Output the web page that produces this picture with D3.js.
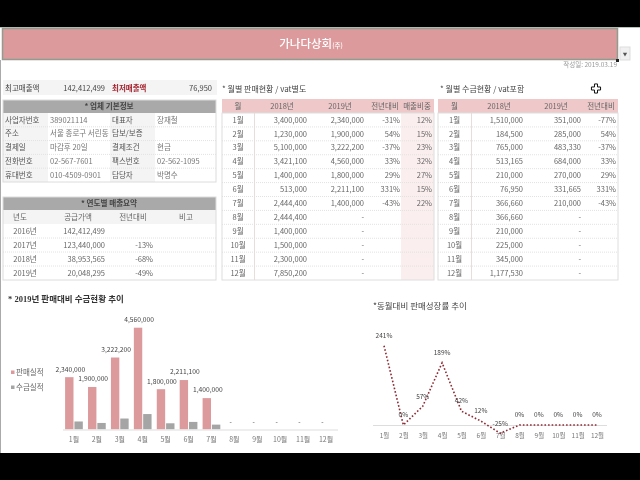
<!DOCTYPE html>
<html>
<head>
<meta charset="utf-8">
<script src="https://cdn.jsdelivr.net/npm/d3@7"></script>
<style>
html, body { margin: 0; padding: 0; background: #fff; }
svg { display: block; filter: blur(0.3px); }
text { font-family: "Noto Sans CJK KR", "Noto Sans", sans-serif; fill: #666; font-size: 7.5px; }
</style>
</head>
<body>
<script>
const months = ['1월','2월','3월','4월','5월','6월','7월','8월','9월','10월','11월','12월']

// 월별 판매현황
const sales2018 = ['3,400,000','1,230,000','5,100,000','3,421,100','1,400,000','513,000','2,444,400','2,444,400','1,400,000','1,500,000','2,300,000','7,850,200']
const sales2019Labels = ['2,340,000','1,900,000','3,222,200','4,560,000','1,800,000','2,211,100','1,400,000','-','-','-','-','-']
const salesYoY = ['-31%','54%','-37%','33%','29%','331%','-43%','','','','','']
const salesShare = ['12%','15%','23%','32%','27%','15%','22%','','','','','']

// 월별 수금현황
const coll2018 = ['1,510,000','184,500','765,000','513,165','210,000','76,950','366,660','366,660','210,000','225,000','345,000','1,177,530']
const coll2019Labels = ['351,000','285,000','483,330','684,000','270,000','331,665','210,000','-','-','-','-','-']
const collYoY = ['-77%','54%','-37%','33%','29%','331%','-43%','','','','','']

// 차트 값
const salesValues = [2340000,1900000,3222200,4560000,1800000,2211100,1400000,0,0,0,0,0]
const collValues = [351000,285000,483330,684000,270000,331665,210000,0,0,0,0,0]
const growthValues = [241,0,57,189,42,12,-25,0,0,0,0,0]

// 업체 기본정보
const infoLabels1 = ['사업자번호','주소','결제일','전화번호','휴대번호']
const infoValues1 = ['389021114','서울 종로구 서린동','마감후 20일','02-567-7601','010-4509-0901']
const infoLabels2 = ['대표자','담보/보증','결제조건','팩스번호','담당자']
const infoValues2 = ['장재철','','현금','02-562-1095','박명수']

// 연도별 매출요약
const yearLabels = ['2016년','2017년','2018년','2019년']
const yearSupply = ['142,412,499','123,440,000','38,953,565','20,048,295']
const yearYoY = ['','-13%','-68%','-49%']

const pink = '#dd9a9c'
const headPink = '#efc9ca'
const gray = '#a9a9a9'
const lightGray = '#f4f4f4'
const barGray = '#a5a5a5'
const rowLine = '#e2e2e2'

const svg = d3.select('body').append('svg').attr('width', 640).attr('height', 480)

function rect(x, y, w, h, fill, stroke) {
    return svg.append('rect').attr('x', x).attr('y', y).attr('width', w).attr('height', h)
        .attr('fill', fill).attr('stroke', stroke || 'none')
}
function label(x, y, str, anchor, size, color, weight) {
    return svg.append('text').attr('x', x).attr('y', y).attr('dy', '.35em')
        .attr('text-anchor', anchor || 'start')
        .style('font-size', (size || 7.5) + 'px')
        .style('fill', color || '#666')
        .style('font-weight', weight || 400)
        .text(str)
}
function rowLines(x0, x1, rows) {
    svg.append('g').selectAll('line').data(rows.domain().slice(1)).enter().append('line')
        .attr('x1', x0).attr('x2', x1)
        .attr('y1', d => rows(d)).attr('y2', d => rows(d))
        .attr('stroke', rowLine).attr('stroke-dasharray', '1,1')
}

// 바깥 화면
rect(0, 0, 640, 27, '#000')
rect(0, 453, 640, 27, '#000')
rect(0, 27, 640, 1, '#b9c4b9')
rect(0, 60, 1, 393, '#aaa')

// 제목
rect(2.5, 28.5, 615, 31, pink, '#8f9c8f').attr('stroke-width', 1.5)
rect(616, 59, 3, 3, '#222')
rect(620, 47, 10, 13, '#f0f0f0', '#ddd')
svg.append('path').attr('d', d3.symbol(d3.symbolTriangle, 8)()).attr('transform', 'translate(625,54) rotate(180)').attr('fill', '#555')
const titleText = label(311, 44, '가나다상회', 'middle', 11.5, '#fff', 500)
titleText.append('tspan').style('font-size', '6.5px').style('fill', '#fff').text('(주)')
label(617, 65, '작성일: 2019.03.19', 'end', 6.5, '#999')

// 최고 / 최저 매출액
rect(3, 80, 214, 15, lightGray)
label(5, 88, '최고매출액', 'start', 7.5, '#444')
label(105, 88, yearSupply[0], 'end', 7.5, '#444')
label(112, 88, '최저매출액', 'start', 7.5, '#a3242f', 700)
label(212, 88, coll2018[5], 'end', 7.5, '#444')

// 업체 기본정보
rect(3, 100, 213, 13, gray)
label(109, 106.5, '* 업체 기본정보', 'middle', 7.6, '#444', 700)
const infoRows = d3.scaleBand().domain(d3.range(5)).range([113, 182])
const infoCols = [
    [3, 45, infoLabels1, true],
    [48, 62, infoValues1, false],
    [110, 45, infoLabels2, true],
    [155, 61, infoValues2, false]
]
infoCols.forEach(col => {
    if (col[3]) rect(col[0], 113, col[1], 69, lightGray)
    col[2].forEach((d, i) => {
        label(col[0] + 2, infoRows(i) + infoRows.bandwidth() / 2, d, 'start', 7.5, col[3] ? '#555' : '#777')
    })
})
rowLines(3, 216, infoRows)
rect(3, 100, 213, 82, 'none', '#dcdcdc')

// 연도별 매출요약
rect(3, 197, 213, 13, gray)
label(109, 203.5, '* 연도별 매출요약', 'middle', 7.6, '#444', 700)
rect(3, 210, 213, 14, lightGray)
label(20, 217, '년도', 'middle')
label(78, 217, '공급가액', 'middle')
label(133, 217, '전년대비', 'middle')
label(186, 217, '비고', 'middle')
const yearRows = d3.scaleBand().domain(d3.range(4)).range([224, 280])
yearLabels.forEach((d, i) => {
    const cy = yearRows(i) + yearRows.bandwidth() / 2
    label(25, cy, d, 'middle')
    label(105, cy, yearSupply[i], 'end')
    label(153, cy, yearYoY[i], 'end')
})
rowLines(3, 216, yearRows)
rect(3, 197, 213, 83, 'none', '#dcdcdc')

// 월별 표 공통
function monthTable(title, titleX, x0, x1, sep, columns) {
    label(titleX, 89, title, 'start', 8, '#444')
    const rows = d3.scaleBand().domain(months).range([113, 280])
    rect(x0, 99, x1 - x0, 14, headPink)
    label((x0 + sep) / 2, 106, '월', 'middle')
    columns.forEach(c => {
        if (c.bg) rect(c.bgX, 113, x1 - c.bgX, 167, c.bg)
        label(c.head, 106, c.name, 'middle')
        c.values.forEach((d, i) => {
            label(c.right, rows(months[i]) + rows.bandwidth() / 2, d, 'end')
        })
    })
    months.forEach(m => label((x0 + sep) / 2, rows(m) + rows.bandwidth() / 2, m, 'middle'))
    rowLines(x0, x1, rows)
    rect(sep, 113, 1, 167, '#e8dcdc')
    rect(x0, 113, x1 - x0, 167, 'none', '#dedede')
}

monthTable('* 월별 판매현황 / vat별도', 222, 222, 434, 254, [
    { name: '2018년', head: 282, right: 307, values: sales2018 },
    { name: '2019년', head: 340, right: 364, values: sales2019Labels },
    { name: '전년대비', head: 385, right: 400, values: salesYoY },
    { name: '매출비중', head: 417, right: 432, values: salesShare, bg: '#fbeeee', bgX: 401 }
])
monthTable('* 월별 수금현황 / vat포함', 440, 438, 618, 471, [
    { name: '2018년', head: 499, right: 523, values: coll2018 },
    { name: '2019년', head: 556, right: 581, values: coll2019Labels },
    { name: '전년대비', head: 601, right: 616, values: collYoY }
])

// 커서
svg.append('path')
    .attr('d', d3.symbol(d3.symbolCross, 46)())
    .attr('transform', 'translate(596,88.5)')
    .attr('fill', '#fff').attr('stroke', '#111').attr('stroke-width', 1)

// 막대 차트
label(8, 299, '* 2019년 판매대비 수금현황 추이', 'start', 8.5, '#333', 700).style('font-family', '"Liberation Serif", "Noto Sans CJK KR", serif')
const barX = d3.scaleBand().domain(months).range([62.5, 337.5])
const barY = d3.scaleLinear().domain([0, 4560000]).range([429.3, 327.7])
const barInner = d3.scaleBand().domain(['sales', 'coll']).range([2.6, barX.bandwidth() - 2.6]).paddingInner(0.1)

svg.append('g').selectAll('rect').data(salesValues).enter().append('rect')
    .attr('x', (d, i) => barX(months[i]) + barInner('sales'))
    .attr('y', d => barY(d))
    .attr('width', barInner.bandwidth())
    .attr('height', d => barY(0) - barY(d))
    .attr('fill', pink)
svg.append('g').selectAll('rect').data(collValues).enter().append('rect')
    .attr('x', (d, i) => barX(months[i]) + barInner('coll'))
    .attr('y', d => barY(d))
    .attr('width', barInner.bandwidth())
    .attr('height', d => barY(0) - barY(d))
    .attr('fill', barGray)
sales2019Labels.forEach((d, i) => {
    label(barX(months[i]) + barInner('sales') + barInner.bandwidth() / 2 + 1, barY(salesValues[i]) - 8, d, 'middle', 6.7, '#444')
})

const barAxis = svg.append('g').attr('transform', 'translate(0,429.5)')
    .call(d3.axisBottom(barX).tickSize(0).tickPadding(8))
barAxis.select('.domain').attr('stroke', '#ddd')
barAxis.selectAll('text').style('font-size', '7px').style('fill', '#777')

rect(11, 370.5, 3.5, 3.5, pink)
label(16, 372, '판매실적', 'start', 7.5, '#666')
rect(11, 385.5, 3.5, 3.5, barGray)
label(16, 387, '수금실적', 'start', 7.5, '#666')

// 꺾은선 차트
label(373, 306, '*동월대비 판매성장률 추이', 'start', 8.5, '#444')
const lineX = d3.scalePoint().domain(months).range([384, 597])
const lineY = d3.scaleLinear().domain([0, 241]).range([425, 345.7])

const lineAxis = svg.append('g').attr('transform', 'translate(0,425.5)')
    .call(d3.axisBottom(lineX).tickSize(0).tickPadding(8))
lineAxis.select('.domain').attr('d', 'M373,0H607').attr('stroke', '#ddd')
lineAxis.selectAll('text').style('font-size', '6.5px').style('fill', '#777')

const growthLine = d3.line().x((d, i) => lineX(months[i])).y(d => lineY(d))
svg.append('path').datum(growthValues)
    .attr('d', growthLine)
    .attr('fill', 'none')
    .attr('stroke', '#8e2a33')
    .attr('stroke-width', 1.6)
    .attr('stroke-dasharray', '1.6,2')
growthValues.forEach((d, i) => {
    label(lineX(months[i]), lineY(d) - 10, d + '%', 'middle', 6.5, '#444')
})
</script>
</body>
</html>
